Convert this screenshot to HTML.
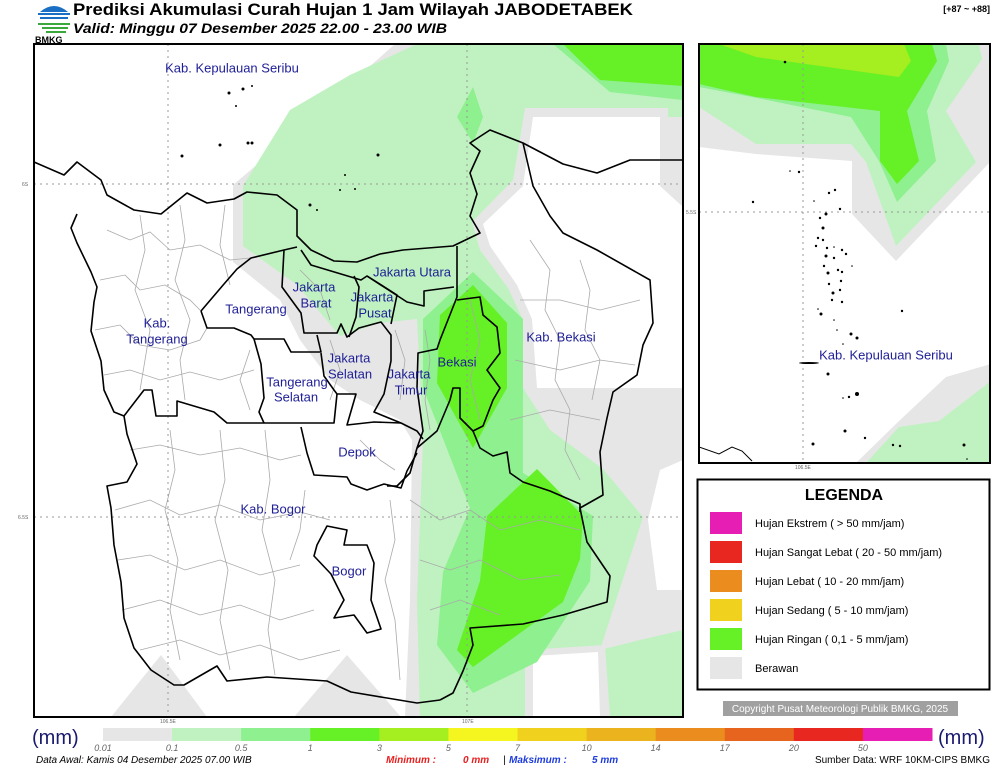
<!DOCTYPE html>
<html><head><meta charset="utf-8"><style>
html,body{margin:0;padding:0;background:#fff;}
body{width:1000px;height:769px;position:relative;overflow:hidden;font-family:"Liberation Sans",sans-serif;}
svg{position:absolute;left:0;top:0;}
.lbl{font-family:"Liberation Sans",sans-serif;font-size:13px;fill:#1e1e96;}
</style></head><body>
<svg width="1000" height="769" viewBox="0 0 1000 769">
<defs>
<clipPath id="cm"><rect x="34" y="44" width="649" height="673"/></clipPath>
<clipPath id="ci"><rect x="699" y="44" width="291" height="419"/></clipPath>
</defs>

<!-- Header -->
<g>
<path d="M40 12 Q54 0 68 12 Z" fill="#1a6fc4"/>
<rect x="38" y="13" width="32" height="2" fill="#1a6fc4"/>
<rect x="40" y="17" width="28" height="2" fill="#1a6fc4"/>
<rect x="38" y="23" width="32" height="2" fill="#3aa83a"/>
<rect x="42" y="27" width="26" height="2" fill="#3aa83a"/>
<rect x="46" y="31" width="20" height="2" fill="#3aa83a"/>
<text x="35" y="43" font-size="9" font-weight="bold" fill="#000" font-family="Liberation Sans, sans-serif">BMKG</text>
</g>
<text x="73" y="15" font-size="17" font-weight="bold" fill="#000" font-family="Liberation Sans, sans-serif" textLength="560" lengthAdjust="spacingAndGlyphs">Prediksi Akumulasi Curah Hujan 1 Jam Wilayah JABODETABEK</text>
<text x="73" y="33" font-size="14" font-weight="bold" font-style="italic" fill="#000" font-family="Liberation Sans, sans-serif" textLength="374" lengthAdjust="spacingAndGlyphs">Valid: Minggu 07 Desember 2025 22.00 - 23.00 WIB</text>
<text x="990" y="12" font-size="9" font-weight="bold" text-anchor="end" fill="#000" font-family="Liberation Sans, sans-serif">[+87 ~ +88]</text>

<!-- Main map -->
<g clip-path="url(#cm)">
<rect x="34" y="44" width="649" height="673" fill="#fff"/>
<polygon fill="#e6e6e6" points="233,262 233,185 300,128 395,44 683,44 683,717 405,717 410,600 412,440 400,420 360,400 330,380 300,340 280,300"/>
<polygon fill="#e6e6e6" points="111,717 161,655 207,717"/>
<polygon fill="#e6e6e6" points="294,717 347,655 401,717"/>
<polygon fill="#bff2c0" points="243,186 243,246 297,285 340,336 380,323 417,319 423,439 417,600 420,717 683,717 683,630 640,640 600,650 643,517 603,469 550,430 523,388 523,319 517,285 490,246 483,224 523,186 533,117 683,117 683,44 417,44 350,75 290,110"/>
<polygon fill="#e6e6e6" points="525,108 668,108 668,180 683,196 683,400 530,398 524,322 508,288 480,250 472,222 513,180"/>
<polygon fill="#fff" points="533,117 660,117 660,186 683,207 683,388 603,388 537,388 532,319 517,285 490,246 483,224 523,186"/>
<polygon fill="#fff" points="660,470 683,460 683,590 657,590 648,520"/>
<polygon fill="#e6e6e6" points="525,650 605,645 610,717 525,717"/>
<polygon fill="#fff" points="533,656 598,652 600,717 533,717"/>
<polygon fill="#8ef08e" points="423,319 473,272 523,319 523,473 593,516 590,581 537,662 473,693 437,645 443,572 470,508 440,431 423,388"/>
<polygon fill="#8ef08e" points="457,117 473,87 483,117 473,143"/>
<polygon fill="#8ef08e" points="553,44 683,44 683,100 610,92"/>
<polygon fill="#66f026" points="440,315 473,285 507,323 507,388 473,448 437,383"/>
<polygon fill="#66f026" points="487,516 537,469 583,516 580,559 563,602 473,667 457,650 480,581"/>
<polygon fill="#66f026" points="563,44 683,44 683,86 600,80"/>

<!-- grid -->
<g stroke="#999" stroke-width="1" stroke-dasharray="2,4" fill="none">
<line x1="34" y1="184" x2="683" y2="184"/><line x1="34" y1="517" x2="683" y2="517"/>
<line x1="168" y1="44" x2="168" y2="717"/><line x1="467" y1="44" x2="467" y2="717"/>
</g>

<!-- district lines -->
<g fill="none" stroke="#aaa" stroke-width="0.8">
<polyline points="107,230 130,240 150,232 170,250 200,245 230,260 250,258"/>
<polyline points="100,280 125,275 140,290 165,285 190,300 201,311"/>
<polyline points="95,330 120,325 140,345 170,350 200,340 207,328"/>
<polyline points="104,375 130,370 160,380 190,372 220,380 254,370"/>
<polyline points="140,215 145,250 135,290 150,330 140,390"/>
<polyline points="180,205 185,240 175,280 190,320 180,360 185,400"/>
<polyline points="225,205 220,245 230,285"/>
<polyline points="130,450 160,445 200,455 240,448 280,460 301,455"/>
<polyline points="115,510 150,500 180,515 220,505 260,520 300,512 330,520"/>
<polyline points="118,560 150,555 185,570 220,560 260,575 300,565"/>
<polyline points="122,610 160,600 200,615 240,605 280,620 314,610"/>
<polyline points="140,650 180,640 220,655 260,645 300,660 340,650"/>
<polyline points="170,430 175,470 165,510 178,560 170,610 180,660"/>
<polyline points="220,430 225,480 215,520 228,570 220,620 230,670"/>
<polyline points="265,430 270,480 262,530 275,580 268,630 275,675"/>
<polyline points="305,490 300,530 290,560"/>
<polyline points="390,500 395,540 385,580 395,620 400,680"/>
<polyline points="410,500 440,520 470,510 500,530 540,520 580,530"/>
<polyline points="420,560 450,570 480,560 520,580 560,575"/>
<polyline points="430,610 460,600 500,615"/>
<polyline points="530,240 550,270 545,310 560,340 555,380 570,410 565,450 580,480"/>
<polyline points="580,260 590,290 585,330 600,360 592,400"/>
<polyline points="520,300 560,300 600,310 640,300"/>
<polyline points="515,360 560,370 600,360 635,365"/>
<polyline points="510,420 550,410 600,420"/>
<polyline points="300,270 320,290 330,320"/>
<polyline points="330,340 340,370 330,400"/>
<polyline points="395,330 405,360 400,400"/>
<polyline points="425,330 430,360 425,400 430,430"/>
<polyline points="470,300 480,340 470,380 480,420"/>
<polyline points="250,350 240,380 250,410"/>
<polyline points="360,440 380,460 395,470"/>
</g>

<!-- coastlines & borders -->
<g fill="none" stroke="#000" stroke-width="1.6" stroke-linejoin="round">
<polyline points="34,162 64,175 77,162 101,180 107,195 134,210 161,214 187,193 207,203 234,199 247,192 277,195 297,210 297,236 311,250 334,261 357,262 380,254 403,250 453,246 480,233 470,216 477,194 470,173 480,151 470,143 490,130 523,143 533,186 550,216 563,233 597,250 650,280 653,323 643,345 637,375 613,392 607,418 600,452 603,495 580,508 587,542 610,576 607,602 563,615 523,624 470,628 473,645 463,671 453,693 440,700"/>
<polyline points="77,214 71,228 77,243 91,272 97,287 94,302 91,331 101,361 104,390 114,412 124,416 127,434 137,464 127,482 107,486 111,508 114,545 121,582 124,618 134,648 151,670 174,685 184,685 217,666 227,681 267,677 327,681 351,692 417,703 440,700"/>
<polyline points="523,143 563,164 597,173 630,160 683,160"/>
<polyline points="297,247 284,250 282,287 301,313 304,333 337,333 341,324 347,337 359,328 381,322 391,335 391,361 384,394 374,412 401,423 417,431 423,439"/>
<polyline points="457,246 457,297 440,340 437,349 418,353 417,388 423,431 417,448 410,473 397,486 387,486"/>
<polyline points="457,300 480,297 483,315 497,327 500,353 487,370 500,388 493,400 483,426 473,431 460,418 460,388 453,388 450,400 437,431 417,448"/>
<polyline points="473,431 480,448 493,456 507,452 510,473 523,482 550,491 580,504 580,512"/>
<polyline points="301,427 307,453 314,475 347,477 351,484 367,490 384,484 401,488 407,471 417,453"/>
<polyline points="124,416 144,390 152,390 156,416 177,416 177,401 214,412 227,423 264,423 301,423 334,423 337,394 356,394 347,425 374,422 401,423"/>
<polyline points="254,339 261,364 264,398 259,412 264,423"/>
<polyline points="254,339 284,339 291,352 321,352 317,335"/>
<polyline points="321,353 324,376 334,390 337,394"/>
<polyline points="201,311 224,284 237,269 251,258 284,250"/>
<polyline points="201,311 207,328 234,328 251,335 254,339"/>
<polyline points="301,250 311,265 361,280 367,276 407,302 424,306 424,291 454,287"/>
<polyline points="354,276 359,287 356,317 349,337"/>
<polyline points="367,276 397,295 391,324"/>
<polygon points="327,526 347,530 344,545 367,545 374,563 371,600 381,629 367,633 354,615 334,618 344,600 331,574 314,556 317,545"/>
</g>
<g fill="#000">
<circle cx="229" cy="93" r="1.5"/><circle cx="243" cy="89" r="1.5"/><circle cx="252" cy="86" r="1"/>
<circle cx="220" cy="145" r="1.5"/><circle cx="248" cy="143" r="1.5"/><circle cx="252" cy="143" r="1.5"/>
<circle cx="182" cy="156" r="1.5"/><circle cx="378" cy="155" r="1.5"/><circle cx="310" cy="205" r="1.5"/><circle cx="317" cy="210" r="1"/>
<circle cx="340" cy="190" r="1"/><circle cx="345" cy="175" r="1"/><circle cx="355" cy="189" r="1"/><circle cx="236" cy="106" r="1"/>
</g>
<text class="lbl" x="232" y="68" text-anchor="middle" dominant-baseline="central">Kab. Kepulauan Seribu</text>
<text class="lbl" x="412" y="272" text-anchor="middle" dominant-baseline="central">Jakarta Utara</text>
<text class="lbl" x="314" y="287" text-anchor="middle" dominant-baseline="central">Jakarta</text>
<text class="lbl" x="316" y="303" text-anchor="middle" dominant-baseline="central">Barat</text>
<text class="lbl" x="372" y="297" text-anchor="middle" dominant-baseline="central">Jakarta</text>
<text class="lbl" x="375" y="313" text-anchor="middle" dominant-baseline="central">Pusat</text>
<text class="lbl" x="256" y="309" text-anchor="middle" dominant-baseline="central">Tangerang</text>
<text class="lbl" x="157" y="323" text-anchor="middle" dominant-baseline="central">Kab.</text>
<text class="lbl" x="157" y="339" text-anchor="middle" dominant-baseline="central">Tangerang</text>
<text class="lbl" x="349" y="358" text-anchor="middle" dominant-baseline="central">Jakarta</text>
<text class="lbl" x="350" y="374" text-anchor="middle" dominant-baseline="central">Selatan</text>
<text class="lbl" x="409" y="374" text-anchor="middle" dominant-baseline="central">Jakarta</text>
<text class="lbl" x="411" y="390" text-anchor="middle" dominant-baseline="central">Timur</text>
<text class="lbl" x="297" y="382" text-anchor="middle" dominant-baseline="central">Tangerang</text>
<text class="lbl" x="296" y="397" text-anchor="middle" dominant-baseline="central">Selatan</text>
<text class="lbl" x="457" y="362" text-anchor="middle" dominant-baseline="central">Bekasi</text>
<text class="lbl" x="561" y="337" text-anchor="middle" dominant-baseline="central">Kab. Bekasi</text>
<text class="lbl" x="357" y="452" text-anchor="middle" dominant-baseline="central">Depok</text>
<text class="lbl" x="273" y="509" text-anchor="middle" dominant-baseline="central">Kab. Bogor</text>
<text class="lbl" x="349" y="571" text-anchor="middle" dominant-baseline="central">Bogor</text>
</g>
<rect x="34" y="44" width="649" height="673" fill="none" stroke="#000" stroke-width="2"/>
<g font-size="5" fill="#666" font-family="Liberation Sans, sans-serif">
<text x="22" y="186">6S</text><text x="18" y="519">6.5S</text>
<text x="160" y="723">106.5E</text><text x="462" y="723">107E</text>
<text x="686" y="214">5.5S</text><text x="795" y="469">106.5E</text>
</g>

<!-- Inset -->
<g clip-path="url(#ci)">
<rect x="699" y="44" width="291" height="419" fill="#fff"/>
<polygon fill="#e6e6e6" points="699,44 991,44 991,161 896,261 852,214 852,161 756,154 699,147"/>
<polygon fill="#bff2c0" points="699,107 756,144 851,144 866,162 896,246 976,162 946,111 982,59 979,44 699,44"/>
<polygon fill="#8ef08e" points="699,87 752,97 851,117 879,161 897,202 936,161 927,111 949,61 946,44 699,44"/>
<polygon fill="#66f026" points="699,84 756,97 880,111 880,161 897,184 919,161 907,111 937,61 932,44 699,44"/>
<polygon fill="#a5ee20" points="719,44 756,57 899,77 911,61 904,44"/>
<polygon fill="#e6e6e6" points="856,463 899,421 946,377 991,364 991,463"/>
<polygon fill="#bff2c0" points="866,463 899,427 939,421 991,381 991,463"/>
<g stroke="#999" stroke-width="1" stroke-dasharray="2,4"><line x1="699" y1="212" x2="990" y2="212"/><line x1="803" y1="44" x2="803" y2="463"/></g>
<polyline points="699,447 719,454 732,447 742,451 752,461" fill="none" stroke="#000" stroke-width="1"/>
<g fill="#000">
<circle cx="785" cy="62" r="1.3"/><circle cx="790" cy="171" r="0.8"/><circle cx="799" cy="172" r="1.2"/><circle cx="753" cy="202" r="1.2"/>
<circle cx="829" cy="193" r="1.2"/><circle cx="835" cy="190" r="1.2"/><circle cx="814" cy="201" r="0.8"/><circle cx="840" cy="209" r="1.2"/>
<circle cx="826" cy="214" r="1.5"/><circle cx="820" cy="218" r="1.2"/><circle cx="823" cy="228" r="1.5"/><circle cx="818" cy="238" r="1.2"/>
<circle cx="823" cy="240" r="1.2"/><circle cx="816" cy="246" r="1.2"/><circle cx="827" cy="248" r="1.2"/><circle cx="834" cy="247" r="0.8"/>
<circle cx="842" cy="250" r="1.2"/><circle cx="846" cy="254" r="1.2"/><circle cx="826" cy="256" r="1.5"/><circle cx="834" cy="258" r="1.2"/>
<circle cx="824" cy="266" r="1.2"/><circle cx="838" cy="270" r="1.2"/><circle cx="852" cy="266" r="0.8"/><circle cx="828" cy="273" r="1.5"/>
<circle cx="842" cy="272" r="1.2"/><circle cx="829" cy="284" r="1.2"/><circle cx="841" cy="281" r="1.2"/><circle cx="833" cy="293" r="1.5"/>
<circle cx="840" cy="290" r="1.2"/><circle cx="832" cy="300" r="1.2"/><circle cx="842" cy="302" r="1.2"/><circle cx="818" cy="309" r="0.8"/>
<circle cx="821" cy="314" r="1.5"/><circle cx="834" cy="320" r="0.8"/><circle cx="902" cy="311" r="1.2"/><circle cx="837" cy="330" r="0.8"/>
<circle cx="851" cy="334" r="1.5"/><circle cx="857" cy="338" r="1.5"/><circle cx="843" cy="344" r="0.8"/>
<ellipse cx="809" cy="363" rx="10" ry="1"/><circle cx="828" cy="374" r="1.5"/><circle cx="857" cy="394" r="2"/><circle cx="849" cy="397" r="1.2"/>
<circle cx="843" cy="398" r="0.8"/><circle cx="845" cy="431" r="1.5"/><circle cx="865" cy="438" r="1.2"/><circle cx="813" cy="444" r="1.5"/>
<circle cx="893" cy="445" r="1.2"/><circle cx="900" cy="446" r="1.2"/><circle cx="964" cy="445" r="1.5"/><circle cx="967" cy="459" r="0.8"/>
</g>
<text class="lbl" x="886" y="355" text-anchor="middle" dominant-baseline="central">Kab. Kepulauan Seribu</text>
</g>
<rect x="699" y="44" width="291" height="419" fill="none" stroke="#000" stroke-width="2"/>

<!-- Legend -->
<g>
<rect x="697.5" y="479.5" width="292" height="210" fill="#fff" stroke="#000" stroke-width="2"/>
<text x="844" y="500" font-size="16" font-weight="bold" text-anchor="middle" fill="#000" font-family="Liberation Sans, sans-serif">LEGENDA</text>
<g id="legend-entries"></g>
</g>
<rect x="723" y="701" width="235" height="15" fill="#a0a0a0"/>
<text x="840" y="712" font-size="10" fill="#fff" text-anchor="middle" font-family="Liberation Sans, sans-serif">Copyright Pusat Meteorologi Publik BMKG, 2025</text>

<!-- Colorbar -->
<g id="colorbar"></g>
<text x="32" y="744" font-size="20" fill="#1a1a6e" font-family="Liberation Sans, sans-serif">(mm)</text>
<text x="938" y="744" font-size="20" fill="#1a1a6e" font-family="Liberation Sans, sans-serif">(mm)</text>
<g font-size="10" font-style="italic" font-family="Liberation Sans, sans-serif">
<text x="36" y="763" fill="#000">Data Awal: Kamis 04 Desember 2025 07.00 WIB</text>
<text x="386" y="763" fill="#e82020" font-weight="bold">Minimum :</text>
<text x="463" y="763" fill="#e82020" font-weight="bold">0 mm</text>
<text x="503" y="763" fill="#000">|</text>
<text x="509" y="763" fill="#1e3cdc" font-weight="bold">Maksimum :</text>
<text x="592" y="763" fill="#1e3cdc" font-weight="bold">5 mm</text>
<text x="990" y="763" fill="#000" font-style="normal" text-anchor="end">Sumber Data: WRF 10KM-CIPS BMKG</text>
</g>
</svg>
<script>
const cbColors = ["#e6e6e6","#bff2c0","#8ef08e","#66f026","#a5ee20","#f5f520","#f0d21e","#ebb41e","#eb8c1e","#e6641e","#e82820","#e61eb4"];
const cbTicks = ["0.01","0.1","0.5","1","3","5","7","10","14","17","20","50"];
const legendLabels = ["Hujan Ekstrem ( > 50 mm/jam)","Hujan Sangat Lebat ( 20 - 50 mm/jam)","Hujan Lebat ( 10 - 20 mm/jam)","Hujan Sedang ( 5 - 10 mm/jam)","Hujan Ringan ( 0,1 - 5 mm/jam)","Berawan"];
const legendColors = ["#e61eb4","#e82820","#eb8c1e","#f0d21e","#66f026","#e6e6e6"];
const NS = "http://www.w3.org/2000/svg";
const cb = document.getElementById("colorbar");
const cbX0 = 103, cbX1 = 932, cbY = 728, cbH = 13;
const segW = (cbX1 - cbX0) / cbColors.length;
cbColors.forEach((c, i) => {
  const r = document.createElementNS(NS, "rect");
  r.setAttribute("x", cbX0 + i * segW); r.setAttribute("y", cbY);
  r.setAttribute("width", segW + 0.5); r.setAttribute("height", cbH);
  r.setAttribute("fill", c);
  
  
  cb.appendChild(r);
});
cbTicks.forEach((t, i) => {
  const tx = document.createElementNS(NS, "text");
  tx.setAttribute("x", cbX0 + i * segW); tx.setAttribute("y", 751);
  tx.setAttribute("text-anchor", "middle"); tx.setAttribute("font-size", "9");
  tx.setAttribute("font-style", "italic"); tx.setAttribute("fill", "#666");
  tx.setAttribute("font-family", "Liberation Sans, sans-serif");
  tx.textContent = t;
  
  
  cb.appendChild(tx);
});
const lg = document.getElementById("legend-entries");
legendLabels.forEach((l, i) => {
  const y = 512 + i * 29;
  const r = document.createElementNS(NS, "rect");
  r.setAttribute("x", 710); r.setAttribute("y", y); r.setAttribute("width", 32); r.setAttribute("height", 22);
  r.setAttribute("fill", legendColors[i]);
  
  
  lg.appendChild(r);
  const t = document.createElementNS(NS, "text");
  t.setAttribute("x", 755); t.setAttribute("y", y + 15);
  t.setAttribute("font-size", "11"); t.setAttribute("fill", "#000");
  t.setAttribute("font-family", "Liberation Sans, sans-serif");
  t.textContent = l;
  
  
  lg.appendChild(t);
});
</script>
</body></html>
